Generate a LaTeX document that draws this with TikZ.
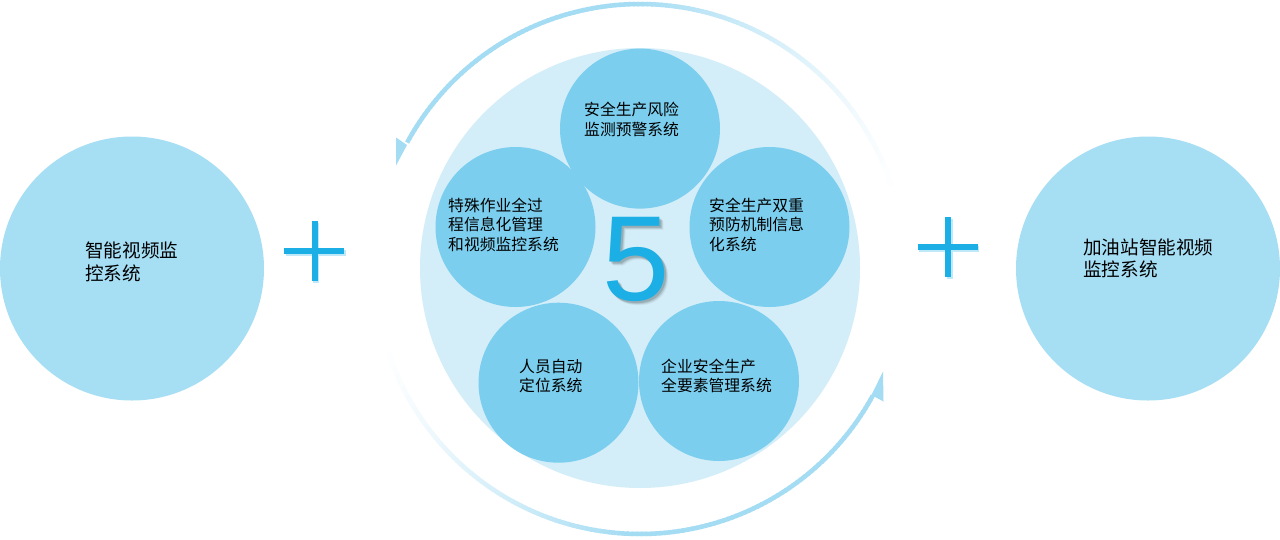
\documentclass[tikz,border=0pt]{standalone}
\usepackage{fontspec}
\setmainfont{Liberation Sans}
\newfontfamily\cjk{Noto Sans CJK SC}
\newfontfamily\digitfont{Liberation Sans}
\usetikzlibrary{calc}
\definecolor{mainc}{HTML}{A6DEF4}
\definecolor{bgc}{HTML}{D4EEF9}
\definecolor{petalc}{HTML}{7BCEEE}
\definecolor{accent}{HTML}{1BAFE5}
\definecolor{arcc}{HTML}{A4DCF3}
\definecolor{plusshadow}{HTML}{BFE8F8}
\begin{document}
\begin{tikzpicture}[x=1pt,y=-1pt,
  bigc/.style={circle,fill=mainc,minimum size=264pt,inner sep=0pt},
  bgcircle/.style={circle,fill=bgc,minimum size=440pt,inner sep=0pt},
  petal/.style={circle,fill=petalc,minimum size=160pt,inner sep=0pt},
  ptext/.style={anchor=west,align=left,inner sep=0pt,text=black,font=\cjk\fontsize{15.8}{19.5}\selectfont},
  mtext/.style={anchor=west,align=left,inner sep=0pt,text=black,font=\cjk\fontsize{18.6}{22.5}\selectfont},
  plusv/.style={rectangle,fill=accent,minimum width=6pt,minimum height=60pt,inner sep=0pt},
  plush/.style={rectangle,fill=accent,minimum width=60pt,minimum height=6pt,inner sep=0pt},
  plusvs/.style={rectangle,fill=plusshadow,minimum width=6pt,minimum height=60pt,inner sep=0pt},
  plushs/.style={rectangle,fill=plusshadow,minimum width=60pt,minimum height=6pt,inner sep=0pt},
  arcline/.style={line width=4.5pt,line cap=butt},
  headfill/.style={fill=arcc,draw=none}]
\useasboundingbox (0,0) rectangle (1280,539);
\fill[white] (0,0) rectangle (1280,539);

% side circles
\node[bigc] (left) at (132,268.5) {};
\node[bigc] (right) at (1148,268.5) {};
\node[mtext] (lefttext) at (85,262) {智能视频监\\控系统};
\node[mtext] (righttext) at (1083,258.5) {加油站智能视频\\监控系统};

% plus signs
\node[plusvs] (p1vs) at (316,252.5) {};
\node[plushs] (p1hs) at (315.5,252.5) {};
\node[plusv] (p1v) at (314.5,251) {};
\node[plush] (p1h) at (314,251) {};
\node[plusvs] (p2vs) at (949.5,248.5) {};
\node[plushs] (p2hs) at (949,248.5) {};
\node[plusv] (p2v) at (948,247) {};
\node[plush] (p2h) at (948,247) {};

% outer arcs
\coordinate (O) at (640,269);
\foreach \a in {208.5,209.5,...,340.5}{
  \pgfmathsetmacro\p{\a<268 ? 100 : 100*((346-\a)/78)^1.5}
  \pgfmathsetmacro\b{\a+1.3}
  \draw[arcline,draw=arcc!\p!white] ($(O)+(\a:265)$) -- ($(O)+(\b:265)$);
}
\foreach \a in {28.5,29.5,...,160.5}{
  \pgfmathsetmacro\p{\a<92 ? 100 : 100*((166-\a)/74)^1.5}
  \pgfmathsetmacro\b{\a+1.3}
  \draw[arcline,draw=arcc!\p!white] ($(O)+(\a:265)$) -- ($(O)+(\b:265)$);
}
% arrow heads
\fill[headfill] (396,137.5) -- (407,145) -- (396,165.5) -- cycle;
\fill[headfill] (883.5,401.5) -- (871.5,395) -- (883,371.5) -- cycle;

% central background
\node[bgcircle] (bg) at (640,268) {};

% petals
\node[petal] (top) at (640,128.6) {};
\node[petal] (lft) at (515.5,227) {};
\node[petal] (rgt) at (769.5,227) {};
\node[petal] (bl) at (558.5,382.7) {};
\node[petal] (br) at (719,381) {};

\node[ptext] (ttop) at (584,119.4) {安全生产风险\\监测预警系统};
\node[ptext] (tlft) at (448,224.5) {特殊作业全过\\程信息化管理\\和视频监控系统};
\node[ptext] (trgt) at (709,224.5) {安全生产双重\\预防机制信息\\化系统};
\node[ptext] (tbl) at (519,376) {人员自动\\定位系统};
\node[ptext] (tbr) at (661,376) {企业安全生产\\全要素管理系统};

% the 5
\foreach \d/\o in {4.5/0.06,3.5/0.10,2.5/0.14}{
  \node[anchor=base,inner sep=0pt,text=black,opacity=\o,font=\digitfont\fontsize{121}{121}\selectfont] at (636+\d,300+\d) {5};
}
\node[anchor=base,inner sep=0pt,text=accent,font=\digitfont\fontsize{121}{121}\selectfont] (five) at (636,300) {5};
\end{tikzpicture}
\end{document}
